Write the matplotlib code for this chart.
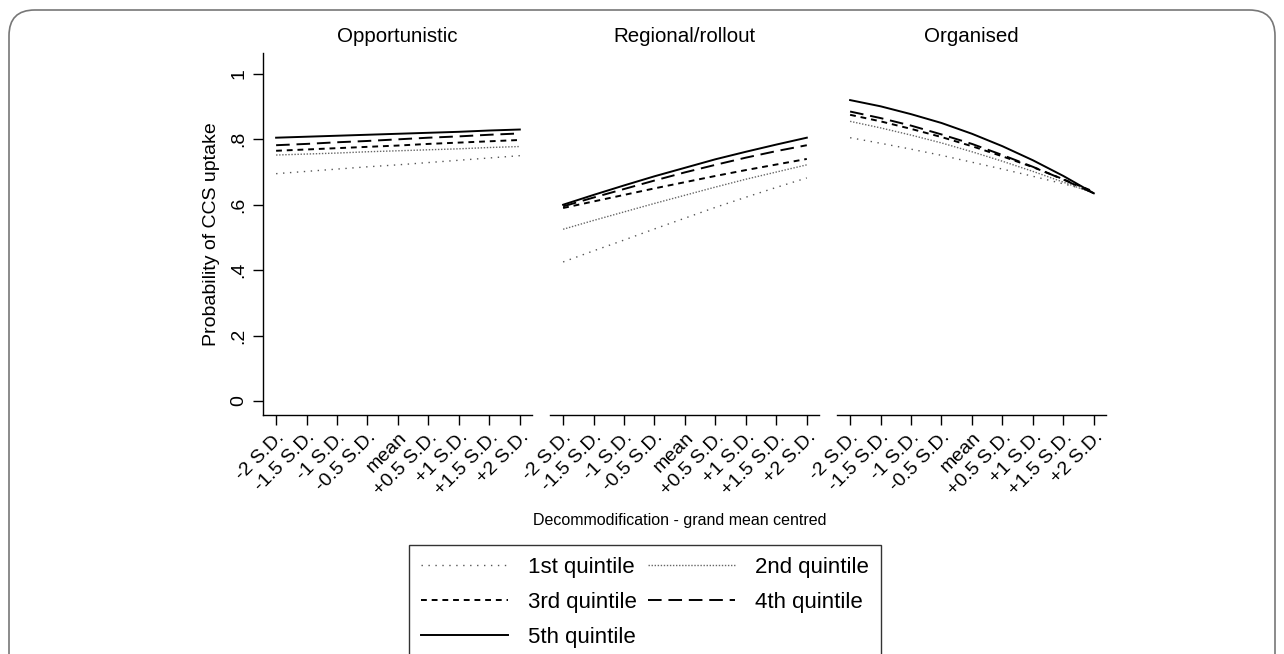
import matplotlib
matplotlib.use("Agg")
import matplotlib.pyplot as plt
from matplotlib.patches import FancyBboxPatch
from matplotlib.lines import Line2D

plt.rcParams["font.family"] = ["Liberation Sans", "DejaVu Sans"]

# --- data ---
X_LABELS = ["-2 S.D.", "-1.5 S.D.", "-1 S.D.", "-0.5 S.D.", "mean",
            "+0.5 S.D.", "+1 S.D.", "+1.5 S.D.", "+2 S.D."]
PANELS = ["Opportunistic", "Regional/rollout", "Organised"]
QUINTILES = ["1st quintile", "2nd quintile", "3rd quintile", "4th quintile", "5th quintile"]

opportunistic = [
    [.695, .702, .709, .716, .722, .729, .736, .743, .750],
    [.752, .755, .758, .762, .765, .768, .771, .775, .778],
    [.765, .769, .773, .777, .781, .786, .790, .794, .798],
    [.782, .786, .791, .795, .800, .805, .809, .814, .818],
    [.805, .808, .811, .814, .817, .820, .823, .827, .830],
]
regional = [
    [.425, .459, .492, .526, .559, .592, .623, .653, .682],
    [.525, .552, .578, .604, .629, .654, .678, .700, .722],
    [.590, .610, .630, .650, .669, .688, .706, .723, .740],
    [.595, .622, .648, .674, .699, .722, .744, .764, .782],
    [.600, .630, .659, .687, .713, .739, .762, .784, .805],
]
organised = [
    [.805, .788, .770, .751, .730, .709, .687, .664, .640],
    [.855, .835, .813, .789, .762, .733, .702, .669, .635],
    [.875, .855, .832, .807, .779, .748, .715, .678, .640],
    [.885, .865, .842, .815, .786, .752, .716, .677, .635],
    [.920, .901, .877, .850, .817, .779, .736, .688, .635],
]
panel_data = [opportunistic, regional, organised]

STYLES = [
    dict(color="#555555", lw=1.0, ls=(0, (1, 4))),
    dict(color="#666666", lw=1.0, ls=(0, (1, 1.2))),
    dict(color="black", lw=1.4, ls=(0, (3, 2.5))),
    dict(color="black", lw=1.4, ls=(0, (7, 3.5))),
    dict(color="black", lw=1.4, ls="-"),
]

W, H = 1284, 654
fig = plt.figure(figsize=(W / 100, H / 100), dpi=100)

# outer rounded frame
frame = FancyBboxPatch((9 / W, -0.05), (W - 18) / W, 1 - 10 / H + 0.05,
                       boxstyle="round,pad=0,rounding_size=0.02",
                       transform=fig.transFigure, fill=False,
                       edgecolor="#777777", lw=1.2, mutation_aspect=W / H)
fig.patches.append(frame)

lefts = [263, 550, 837]
ax_w, top, bottom = 269, 53, 415
xs = list(range(len(X_LABELS)))

for i, (name, data) in enumerate(zip(PANELS, panel_data)):
    ax = fig.add_axes([lefts[i] / W, 1 - bottom / H, ax_w / W, (bottom - top) / H])
    for vals, st in zip(data, STYLES):
        ax.plot(xs, vals, color=st["color"], lw=st["lw"], linestyle=st["ls"])
    ax.set_xlim(-0.43, 8.4)
    ax.set_ylim(-0.043, 1.064)
    ax.set_xticks(xs)
    ax.set_xticklabels(X_LABELS, rotation=45, ha="right", va="top",
                       rotation_mode="anchor", fontsize=14)
    ax.tick_params(axis="x", length=7, width=1, pad=3)
    for s in ("top", "right"):
        ax.spines[s].set_visible(False)
    ax.spines["bottom"].set_linewidth(1)
    if i == 0:
        ax.set_yticks([0, .2, .4, .6, .8, 1])
        ax.set_yticklabels(["0", ".2", ".4", ".6", ".8", "1"], rotation=90,
                           va="center", fontsize=14)
        ax.tick_params(axis="y", length=7, width=1, pad=4)
        ax.spines["left"].set_linewidth(1)
        ax.set_ylabel("Probability of CCS uptake", fontsize=14, labelpad=8)
    else:
        ax.spines["left"].set_visible(False)
        ax.set_yticks([])
    fig.text((lefts[i] + ax_w / 2) / W, 1 - 37 / H, name,
             ha="center", va="center", fontsize=14.8)

fig.text(680 / W, 1 - 521 / H, "Decommodification - grand mean centred",
         ha="center", va="center", fontsize=11.5)

handles = [Line2D([], [], color=st["color"], lw=st["lw"], linestyle=st["ls"]) for st in STYLES]
order = [0, 2, 4, 1, 3]
leg = fig.legend([handles[k] for k in order], [QUINTILES[k] for k in order],
                 ncol=2, loc="upper left", bbox_to_anchor=(409 / W, 1 - 545 / H),
                 borderaxespad=0, fontsize=16, handlelength=3.9, frameon=True,
                 fancybox=False, edgecolor="black", borderpad=0.55,
                 labelspacing=0.62, columnspacing=0.5, handletextpad=0.9)
leg.get_frame().set_linewidth(1)

fig.savefig("out.png", dpi=100)
